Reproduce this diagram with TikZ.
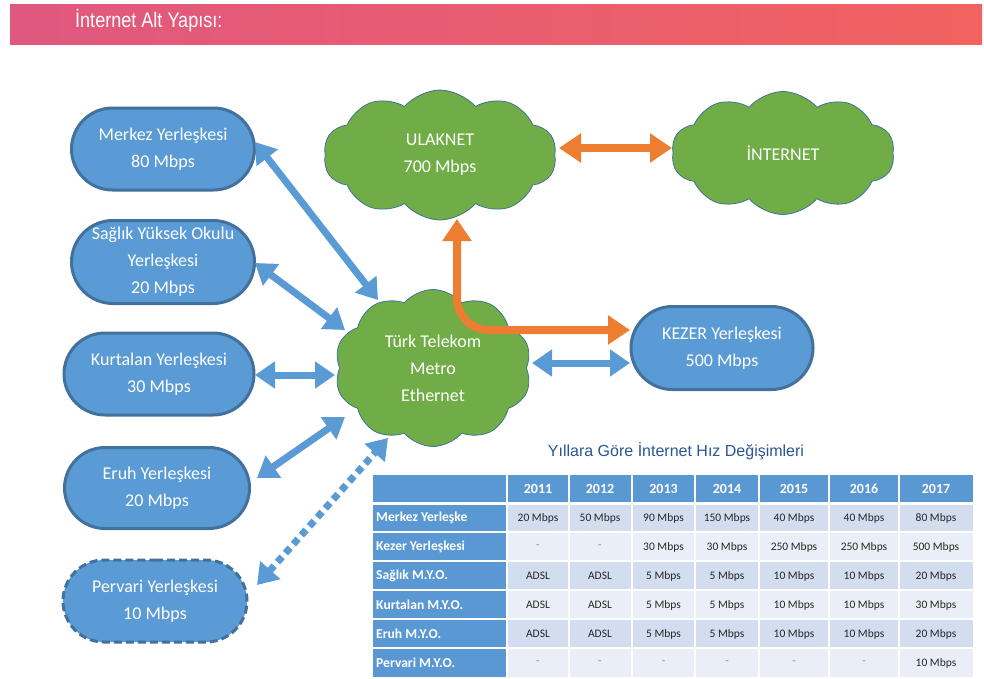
\documentclass[tikz,border=0pt]{standalone}
\usepackage{fontspec}
\setmainfont{Carlito}
\newfontfamily\arialfont{Liberation Sans}
\usetikzlibrary{shapes.symbols,shapes.misc,arrows.meta,calc}
\definecolor{pillfill}{HTML}{5B9BD5}
\definecolor{pillborder}{HTML}{41719C}
\definecolor{cloudfill}{HTML}{70AD47}
\definecolor{cloudborder}{HTML}{41719C}
\definecolor{arrowblue}{HTML}{5B9BD5}
\definecolor{arroworange}{HTML}{ED7D31}
\definecolor{pinkL}{HTML}{E0587F}
\definecolor{pinkR}{HTML}{F16260}
\definecolor{thead}{HTML}{5A98D4}
\definecolor{rowA}{HTML}{D2DEEF}
\definecolor{rowB}{HTML}{EAEFF7}
\definecolor{captionblue}{HTML}{2A5696}
\newcommand\dsh{\textcolor{black!45}{-}}
\tikzset{
  pill/.style={rounded rectangle, draw=pillborder, line width=3pt, fill=pillfill,
    text=white, font=\fontsize{18}{27}\selectfont, align=center, inner sep=0pt},
  cloudbox/.style={cloud, cloud puffs=10, cloud puff arc=100, cloud ignores aspect,
    draw=cloudborder, line width=0.8pt, fill=cloudfill, text=white,
    font=\fontsize{18}{27}\selectfont, align=center, inner sep=0pt},
  barrow/.style={draw=arrowblue, line width=7pt,
    {Triangle[width=26pt,length=20pt]}-{Triangle[width=26pt,length=20pt]}},
  oarrow/.style={draw=arroworange, line width=8pt,
    {Triangle[width=28pt,length=22pt]}-{Triangle[width=28pt,length=22pt]}},
  headcell/.style={text=white, font=\bfseries\fontsize{14}{16}\selectfont},
  rowhead/.style={text=white, font=\bfseries\fontsize{13.6}{15}\selectfont, anchor=west},
  datacell/.style={text=black!85, font=\fontsize{11.5}{13}\selectfont},
}
\begin{document}
\begin{tikzpicture}[x=1pt,y=-1pt]
\useasboundingbox (0,0) rectangle (984,678);
\fill[white] (0,0) rectangle (984,678);
% header bar
\shade[left color=pinkL, right color=pinkR] (10,4) rectangle (982,44);
\node[anchor=west, text=white, font=\arialfont\fontsize{21}{22}\selectfont, xscale=0.86, inner sep=0pt] (title) at (75,21) {İnternet Alt Yapısı:};

% campus pills
\node[pill, minimum width=183, minimum height=82] (merkez) at (163,149) {Merkez Yerleşkesi\\80 Mbps};
\node[pill, minimum width=183, minimum height=83] (sag) at (163,262) {Sağlık Yüksek Okulu\\Yerleşkesi\\20 Mbps};
\node[pill, minimum width=190, minimum height=82] (kurt) at (159,374) {Kurtalan Yerleşkesi\\30 Mbps};
\node[pill, minimum width=185, minimum height=81] (eruh) at (157,488) {Eruh Yerleşkesi\\20 Mbps};
\node[pill, dashed, dash pattern=on 8pt off 4pt, minimum width=184, minimum height=82] (perv) at (155,601) {Pervari Yerleşkesi\\10 Mbps};
\node[pill, minimum width=182, minimum height=83] (kezer) at (722,348) {KEZER Yerleşkesi\\500 Mbps};

% clouds
\node[cloudbox, minimum width=233, minimum height=130] (ulak) at (440,155) {ULAKNET\\700 Mbps};
\node[cloudbox, minimum width=223, minimum height=123] (inet) at (783,153) {İNTERNET};
\node[cloudbox, minimum width=197, minimum height=157] (tt) at (433,368) {Türk Telekom\\Metro\\Ethernet};

% blue connectors
\draw[barrow] ($(merkez)+(92,-7)$) -- ($(tt)+(-55,-68)$);
\draw[barrow] ($(sag)+(92,1)$) -- ($(tt)+(-88,-38)$);
\draw[barrow] ($(kurt)+(96,1)$) -- ($(tt)+(-98,7)$);
\draw[barrow] ($(eruh)+(100,-10)$) -- ($(tt)+(-88,49)$);
\draw[barrow, dash pattern=on 7pt off 5pt] ($(perv)+(102,-16)$) -- ($(tt)+(-45,70)$);
\draw[barrow] ($(tt)+(99,-5)$) -- ($(kezer)+(-92,15)$);

% orange connectors
\draw[oarrow] ($(ulak)+(119,-7)$) -- ($(inet)+(-111,-5)$);
\draw[oarrow, rounded corners=32] ($(ulak)+(17,64)$) |- ($(kezer)+(-92,-18)$);

% caption
\node[text=captionblue, font=\arialfont\fontsize{16}{18}\selectfont, inner sep=0pt] (cap) at (676,451) {Yıllara Göre İnternet Hız Değişimleri};

% table backgrounds
\fill[thead] (373,475) rectangle (973,503);
\fill[thead] (373,503) rectangle (507,677);
\foreach \r in {0,...,5}{
  \pgfmathsetmacro\ytop{503+29*\r}
  \pgfmathtruncatemacro\odd{mod(\r,2)}
  \ifnum\odd=0 \fill[rowA] (507,\ytop) rectangle (973,\ytop+29);
  \else \fill[rowB] (507,\ytop) rectangle (973,\ytop+29); \fi
}
% grid lines
\foreach \x in {507,569,632,695,759,829,899}{
  \draw[white, line width=1.5pt] (\x,475) -- (\x,677);
}
\foreach \r in {1,...,5}{
  \draw[white, line width=1.5pt] (373,503+29*\r) -- (973,503+29*\r);
}
\draw[white, line width=3pt] (373,503) -- (973,503);

% header years
\foreach \yr [count=\c] in {2011,2012,2013,2014,2015,2016,2017}{
  \pgfmathsetmacro\xc{{538,600,663.5,727,794,864,936}[\c-1]}
  \node[headcell] (h\c) at (\xc,489) {\yr};
}
% row heads
\foreach \nm [count=\r] in {Merkez Yerleşke,Kezer Yerleşkesi,Sağlık M.Y.O.,Kurtalan M.Y.O.,Eruh M.Y.O.,Pervari M.Y.O.}{
  \node[rowhead, inner sep=0pt] (rh\r) at (376,489+29*\r) {\nm};
}
% data
\foreach \row [count=\r] in {
  {20 Mbps,50 Mbps,90 Mbps,150 Mbps,40 Mbps,40 Mbps,80 Mbps},
  {\dsh,\dsh,30 Mbps,30 Mbps,250 Mbps,250 Mbps,500 Mbps},
  {ADSL,ADSL,5 Mbps,5 Mbps,10 Mbps,10 Mbps,20 Mbps},
  {ADSL,ADSL,5 Mbps,5 Mbps,10 Mbps,10 Mbps,30 Mbps},
  {ADSL,ADSL,5 Mbps,5 Mbps,10 Mbps,10 Mbps,20 Mbps},
  {\dsh,\dsh,\dsh,\dsh,\dsh,\dsh,10 Mbps}}{
  \foreach \v [count=\c] in \row {
    \pgfmathsetmacro\xc{{538,600,663.5,727,794,864,936}[\c-1]}
    \node[datacell] (d\r-\c) at (\xc,489+29*\r) {\v};
  }
}
\end{tikzpicture}
\end{document}
